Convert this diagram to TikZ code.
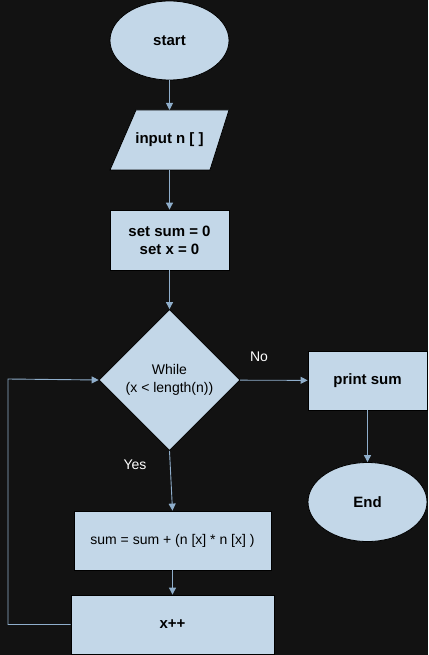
\documentclass[tikz,border=0pt]{standalone}
\usepackage{fontspec}
\setmainfont{Liberation Sans}
\usetikzlibrary{shapes.geometric,arrows.meta}
\definecolor{bg}{HTML}{121212}
\definecolor{fillc}{HTML}{C3D7E8}
\definecolor{linec}{HTML}{8FAECB}
\tikzset{
  base/.style={draw=black, line width=0.8pt, fill=fillc, text=black, inner sep=0pt, align=center, font=\fontsize{15}{18}\selectfont\bfseries},
  oval/.style={base, ellipse, minimum width=119pt, minimum height=79pt},
  box/.style={base, rectangle, minimum height=59pt},
  conn/.style={draw=linec, line width=0.9pt, -{Triangle[width=7pt,length=7pt]}},
  lbl/.style={text=white, font=\fontsize{14}{16}\selectfont},
}
\begin{document}
\begin{tikzpicture}[x=1pt,y=-1pt]
\fill[bg] (0,0) rectangle (428,655);
\useasboundingbox (0,0) rectangle (428,655);
\node[oval] (start) at (169.5,40.5) {start};
\filldraw[draw=black, line width=0.8pt, fill=fillc] (136,110) -- (229,110) -- (210,170) -- (110,170) -- cycle;
\node[inner sep=0pt, minimum width=119pt, minimum height=60pt, font=\fontsize{15}{18}\selectfont\bfseries] (input) at (169.5,140) {input n [ ]};
\node[box, minimum width=119pt, minimum height=60pt] (set) at (169.5,240) {set sum = 0\\ set x = 0};
\node[base, diamond, aspect=1, minimum width=141pt, minimum height=141pt, font=\fontsize{14}{18}\selectfont] (while) at (169.5,380) {While\\(x {\textless} length(n))};
\node[box, minimum width=119pt] (print) at (367.5,380.5) {print sum};
\node[oval] (end) at (367.5,502) {End};
\node[box, minimum width=197pt, font=\fontsize{14}{16}\selectfont] (sum) at (172.5,540.5) {sum = sum + (n [x] * n [x] )};
\node[box, minimum width=203pt] (inc) at (172.5,624.5) {x++};
\coordinate (c1) at (8,624.5);
\coordinate (c2) at (8,379);
\draw[conn] (start) -- (169.5,110);
\draw[conn] (input) -- (set);
\draw[conn] (set) -- (while);
\draw[conn] (while) -- (print);
\draw[conn] (print) -- (end);
\draw[conn] (while.south) -- (sum.north);
\draw[conn] (sum) -- (inc);
\draw[conn] (inc.west) -- (c1) -- (c2) -- (while.west);
\node[lbl] (no) at (259,357) {No};
\node[lbl] (yes) at (135,465) {Yes};
\end{tikzpicture}
\end{document}
